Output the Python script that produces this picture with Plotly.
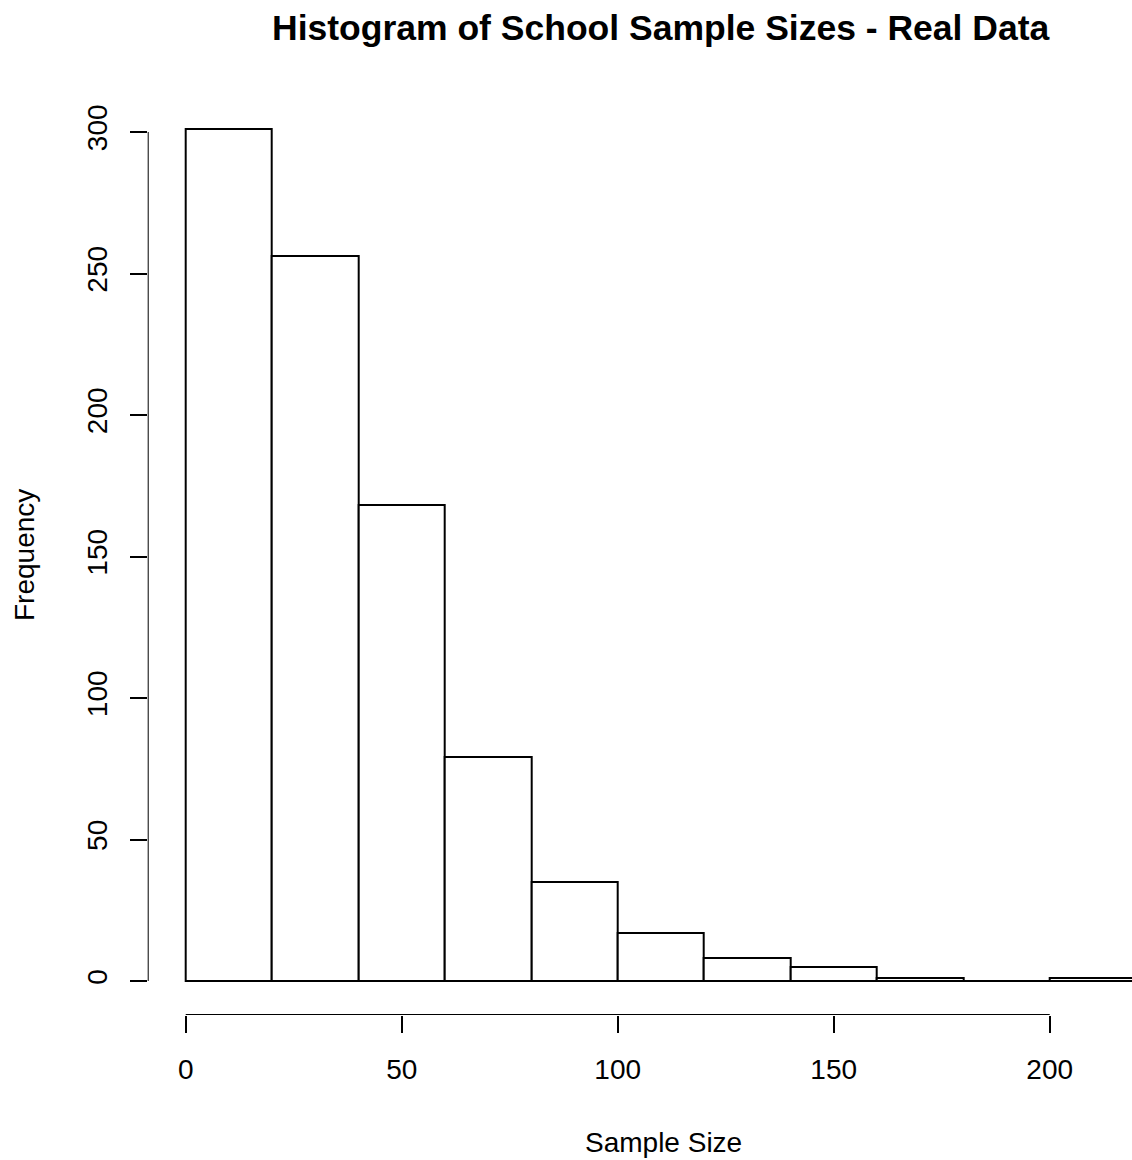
import plotly.graph_objects as go

# Data (histogram of school sample sizes)
bin_starts = [0, 20, 40, 60, 80, 100, 120, 140, 160, 180, 200]
bin_width = 20
counts = [301, 256, 168, 79, 35, 17, 8, 5, 1, 0, 1]
x_ticks = [0, 50, 100, 150, 200]
y_ticks = [0, 50, 100, 150, 200, 250, 300]

W, H = 1132, 1160
FONT = "Liberation Sans, Arial, sans-serif"

# Plot region in pixels (R-like)
left_px = 147.7
top_px, bottom_px = 95.1, 1015.1
x_range = [-8.8, 219.05]
y_range = [-12.04, 313.04]

centers = [b + bin_width / 2 for b in bin_starts]

fig = go.Figure()
fig.add_trace(go.Bar(
    x=centers, y=counts, width=[bin_width] * len(counts),
    marker=dict(color="white", line=dict(color="black", width=2)),
    showlegend=False, hoverinfo="x+y",
))

fig.update_layout(
    width=W, height=H,
    margin=dict(l=0, r=0, t=0, b=0),
    paper_bgcolor="white", plot_bgcolor="white",
    font=dict(family=FONT, color="black", size=28),
    bargap=0,
    xaxis=dict(
        domain=[left_px / W, 1.0], range=x_range, showgrid=False, zeroline=False,
        showline=False, ticks="outside", ticklen=17, tickwidth=2, tickcolor="black",
        tickvals=x_ticks, ticktext=[str(v) for v in x_ticks],
        tickfont=dict(size=28, family=FONT), ticklabelstandoff=12,
    ),
    yaxis=dict(
        domain=[(H - bottom_px) / H, (H - top_px) / H], range=y_range, showgrid=False,
        zeroline=False, showline=False, ticks="outside", ticklen=17, tickwidth=2,
        tickcolor="black", tickvals=y_ticks, ticktext=[str(v) for v in y_ticks],
        tickangle=-90, tickfont=dict(size=28, family=FONT), ticklabelstandoff=12,
    ),
    shapes=[
        dict(type="line", xref="x", yref="y", x0=x_ticks[0], x1=x_ticks[-1],
             y0=y_range[0], y1=y_range[0], line=dict(color="black", width=2)),
        dict(type="line", xref="x", yref="y", x0=x_range[0], x1=x_range[0],
             y0=y_ticks[0], y1=y_ticks[-1], line=dict(color="black", width=2)),
    ],
    annotations=[
        dict(text="<b>Histogram of School Sample Sizes - Real Data</b>", xref="paper", yref="paper",
             x=661 / W, y=(H - 28) / H, xanchor="center", yanchor="middle", showarrow=False,
             font=dict(size=35.5, family=FONT)),
        dict(text="Sample Size", xref="paper", yref="paper",
             x=663 / W, y=(H - 1142) / H, xanchor="center", yanchor="middle", showarrow=False,
             font=dict(size=28, family=FONT)),
        dict(text="Frequency", xref="paper", yref="paper", textangle=-90,
             x=24 / W, y=(H - 555) / H, xanchor="center", yanchor="middle", showarrow=False,
             font=dict(size=28, family=FONT)),
    ],
)

fig.write_html("out.html", config={"displayModeBar": False},
               post_script="document.body.style.margin='0';document.body.style.overflow='hidden';")
